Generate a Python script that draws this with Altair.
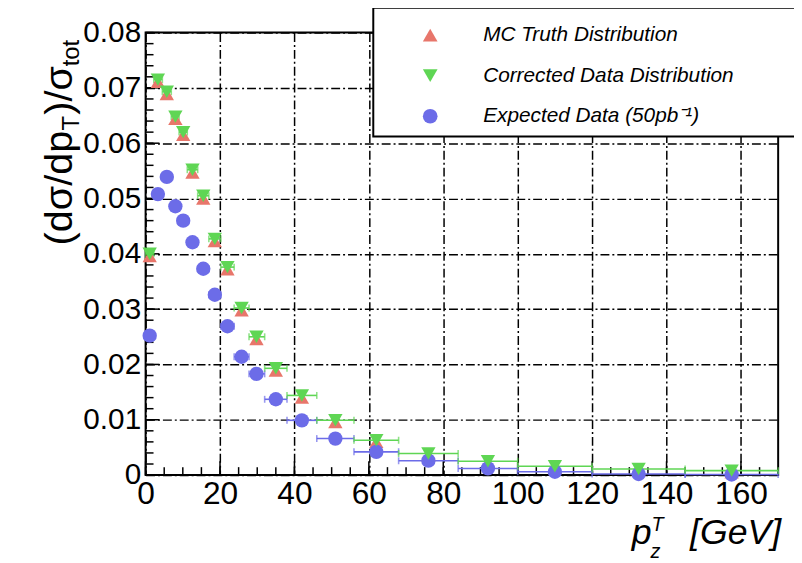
import altair as alt
import pandas as pd

# ---------------- data ----------------
pt_center = [1.1, 3.3, 5.7, 8.0, 10.1, 12.6, 15.5, 18.6, 22.0, 25.8, 29.8, 35.0,
             42.0, 51.0, 62.0, 76.0, 92.0, 110.0, 132.5, 157.5]
bin_lo = [0.0, 2.2, 4.5, 6.9, 9.0, 11.2, 14.0, 17.0, 20.2, 23.8, 27.8, 32.0,
          38.0, 46.0, 56.0, 68.0, 84.0, 100.0, 120.0, 145.0]
bin_hi = [2.2, 4.5, 6.9, 9.0, 11.2, 14.0, 17.0, 20.2, 23.8, 27.8, 32.0, 38.0,
          46.0, 56.0, 68.0, 84.0, 100.0, 120.0, 145.0, 170.0]
mc_truth = [0.0396, 0.0711, 0.0689, 0.0644, 0.0615, 0.0547, 0.0500, 0.0423, 0.0372,
            0.0298, 0.0246, 0.0189, 0.0140, 0.0096, 0.0060, 0.0036, 0.0022, 0.0013,
            0.0008, 0.0005]
corrected = [0.0400, 0.0715, 0.0693, 0.0648, 0.0620, 0.0552, 0.0505, 0.0427, 0.0376,
             0.0302, 0.0250, 0.0193, 0.0144, 0.0099, 0.0063, 0.0039, 0.0025, 0.0016,
             0.0011, 0.0008]
expected = [0.0252, 0.0508, 0.0539, 0.0486, 0.0460, 0.0421, 0.0373, 0.0326, 0.0269,
            0.0214, 0.0183, 0.0137, 0.0099, 0.0066, 0.0042, 0.0026, 0.0012, 0.0006,
            0.0002, 0.0001]

series_names = ["MC Truth Distribution", "Corrected Data Distribution",
                "Expected Data (50pb\u207b\u00b9)"]
series_colors = ["#E8766B", "#5FD654", "#6C6CE8"]
series_shapes = ["triangle-up", "triangle-down", "circle"]
draw_order = [0, 2, 1]  # red first, then blue, then green on top

x_major = [0, 20, 40, 60, 80, 100, 120, 140, 160]
x_minor = list(range(0, 171, 5))
y_major = [0.0, 0.01, 0.02, 0.03, 0.04, 0.05, 0.06, 0.07, 0.08]
y_minor = [round(i * 0.002, 3) for i in range(41)]

FONT = "Liberation Sans"
W, H = 639, 447

# ---------------- tables ----------------
rows = []
for name, vals, od in zip(series_names, [mc_truth, corrected, expected], draw_order):
    for x, v in zip(pt_center, vals):
        rows.append({"pt": x, "val": v, "series": name, "draw": od})
df_pts = pd.DataFrame(rows)

df_green = pd.DataFrame({"pt": pt_center, "lo": bin_lo, "hi": bin_hi, "val": corrected})
df_blue = pd.DataFrame({"pt": pt_center, "lo": bin_lo, "hi": bin_hi, "val": expected})


def caps(df):
    a = pd.DataFrame({"edge": df["lo"], "val": df["val"]})
    b = pd.DataFrame({"edge": df["hi"], "val": df["val"]})
    return pd.concat([a, b], ignore_index=True)


xs = alt.Scale(domain=[0, 170], nice=False, zero=False)
ys = alt.Scale(domain=[0, 0.08], nice=False)

grid_common = dict(grid=True, gridColor="black", gridDash=[9, 3, 2, 3], gridWidth=1.5,
                   gridOpacity=1, ticks=False, domain=False, labelFont=FONT,
                   labelColor="black", title=None,
                   labelOverlap=False, labelFlush=False)
x_axis = alt.Axis(values=x_major, labelPadding=4, labelFontSize=32, **grid_common)
y_axis = alt.Axis(values=y_major, labelPadding=5, labelFontSize=30,
                  labelExpr="datum.value == 0 ? '0' : format(datum.value, '.2f')",
                  **grid_common)

leg = alt.Legend(title=None, orient="none", legendX=277, legendY=-8, padding=0,
                 labelFont=FONT, labelFontStyle="italic", labelFontSize=21,
                 labelColor="black", symbolSize=220, rowPadding=19, labelOffset=43,
                 symbolStrokeWidth=0, symbolOpacity=1, labelLimit=400)

# ---------------- layers ----------------
base_axes = alt.Chart(df_pts).mark_point(opacity=0).encode(
    x=alt.X("pt:Q", scale=xs, axis=x_axis),
    y=alt.Y("val:Q", scale=ys, axis=y_axis),
)

# inner ticks
df_xminor = pd.DataFrame({"t": x_minor})
df_xmajor = pd.DataFrame({"t": x_major})
df_yminor = pd.DataFrame({"t": y_minor})
df_ymajor = pd.DataFrame({"t": y_major})

xt_minor = alt.Chart(df_xminor).mark_rule(color="black", strokeWidth=1.5).encode(
    x=alt.X("t:Q", scale=xs), y=alt.value(H), y2=alt.value(H - 8))
xt_major = alt.Chart(df_xmajor).mark_rule(color="black", strokeWidth=1.5).encode(
    x=alt.X("t:Q", scale=xs), y=alt.value(H), y2=alt.value(H - 14))
yt_minor = alt.Chart(df_yminor).mark_rule(color="black", strokeWidth=1.5).encode(
    y=alt.Y("t:Q", scale=ys), x=alt.value(0), x2=alt.value(8))
yt_major = alt.Chart(df_ymajor).mark_rule(color="black", strokeWidth=1.5).encode(
    y=alt.Y("t:Q", scale=ys), x=alt.value(0), x2=alt.value(14))


def bars(df, color):
    line = alt.Chart(df).mark_rule(color=color, strokeWidth=1.6).encode(
        x=alt.X("lo:Q", scale=xs), x2="hi:Q", y=alt.Y("val:Q", scale=ys))
    cap = alt.Chart(caps(df)).mark_tick(color=color, orient="vertical", size=7,
                                        thickness=1.6).encode(
        x=alt.X("edge:Q", scale=xs), y=alt.Y("val:Q", scale=ys))
    return line + cap


points = alt.Chart(df_pts).mark_point(filled=True, opacity=1, strokeWidth=0).encode(
    x=alt.X("pt:Q", scale=xs),
    y=alt.Y("val:Q", scale=ys),
    color=alt.Color("series:N", scale=alt.Scale(domain=series_names, range=series_colors),
                    legend=leg),
    shape=alt.Shape("series:N", scale=alt.Scale(domain=series_names, range=series_shapes),
                    legend=leg),
    size=alt.value(210),
    order=alt.Order("draw:Q"),
)

one = pd.DataFrame({"k": [0]})
legend_box = alt.Chart(one).mark_rect(fill="white", stroke="black", strokeWidth=2).encode(
    x=alt.value(230), x2=alt.value(680), y=alt.value(-25), y2=alt.value(105))


def txt(s, x, y, size, angle=0, align="left", style="normal"):
    return alt.Chart(one).mark_text(text=s, font=FONT, fontSize=size, angle=angle,
                                    align=align, baseline="alphabetic", color="black",
                                    fontStyle=style).encode(
        x=alt.value(x), y=alt.value(y))


# y title: (dσ/dp_T)/σ_tot, rotated
yb = -74
ytitle = (txt("(d\u03c3/dp", yb, 215, 40, angle=270)
          + txt("T", yb + 7, 99, 24, angle=270)
          + txt(")/\u03c3", yb, 83, 40, angle=270)
          + txt("tot", yb + 7, 34, 24, angle=270))

# x title: p_z^T [GeV]
xtitle = (txt("p", 491, 517, 36, style="italic")
          + txt("T", 511, 503, 20, style="italic")
          + txt("z", 510, 531, 20, style="italic")
          + txt("[GeV]", 642, 517, 36, align="right", style="italic"))

chart = alt.layer(
    base_axes, xt_minor, xt_major, yt_minor, yt_major,
    bars(df_blue, series_colors[2]), bars(df_green, series_colors[1]),
    points, legend_box, ytitle, xtitle,
).properties(
    width=W, height=H,
    padding={"left": 139, "top": 22, "right": 16, "bottom": 86},
    autosize=alt.AutoSizeParams(type="none"),
    background="white",
).configure_view(stroke="black", strokeWidth=2)

chart.save("out.html", embed_options={"renderer": "svg", "actions": False})
